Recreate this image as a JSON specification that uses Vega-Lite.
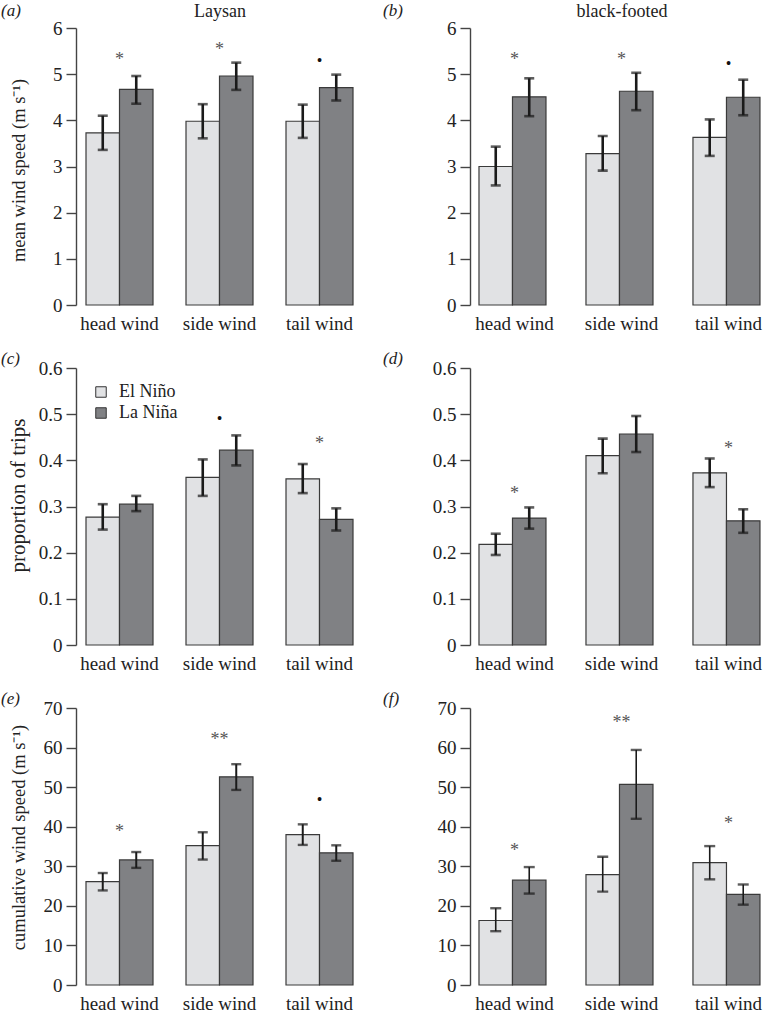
{
  "$schema": "https://vega.github.io/schema/vega-lite/v6.json",
  "padding": {"left": 1, "top": 2, "right": 0, "bottom": 0},
  "background": "white",
  "datasets": {
    "bars": [
      {"panel": "a", "wind": "head wind", "phase": "El Niño", "value": 3.73, "lo": 3.36, "hi": 4.10},
      {"panel": "a", "wind": "head wind", "phase": "La Niña", "value": 4.67, "lo": 4.36, "hi": 4.96},
      {"panel": "a", "wind": "side wind", "phase": "El Niño", "value": 3.98, "lo": 3.61, "hi": 4.35},
      {"panel": "a", "wind": "side wind", "phase": "La Niña", "value": 4.96, "lo": 4.66, "hi": 5.25},
      {"panel": "a", "wind": "tail wind", "phase": "El Niño", "value": 3.98, "lo": 3.62, "hi": 4.34},
      {"panel": "a", "wind": "tail wind", "phase": "La Niña", "value": 4.71, "lo": 4.43, "hi": 4.99},
      {"panel": "b", "wind": "head wind", "phase": "El Niño", "value": 3.00, "lo": 2.59, "hi": 3.43},
      {"panel": "b", "wind": "head wind", "phase": "La Niña", "value": 4.51, "lo": 4.09, "hi": 4.91},
      {"panel": "b", "wind": "side wind", "phase": "El Niño", "value": 3.28, "lo": 2.91, "hi": 3.66},
      {"panel": "b", "wind": "side wind", "phase": "La Niña", "value": 4.63, "lo": 4.22, "hi": 5.03},
      {"panel": "b", "wind": "tail wind", "phase": "El Niño", "value": 3.63, "lo": 3.23, "hi": 4.02},
      {"panel": "b", "wind": "tail wind", "phase": "La Niña", "value": 4.50, "lo": 4.11, "hi": 4.88},
      {"panel": "c", "wind": "head wind", "phase": "El Niño", "value": 0.277, "lo": 0.250, "hi": 0.305},
      {"panel": "c", "wind": "head wind", "phase": "La Niña", "value": 0.305, "lo": 0.290, "hi": 0.323},
      {"panel": "c", "wind": "side wind", "phase": "El Niño", "value": 0.363, "lo": 0.323, "hi": 0.402},
      {"panel": "c", "wind": "side wind", "phase": "La Niña", "value": 0.422, "lo": 0.389, "hi": 0.454},
      {"panel": "c", "wind": "tail wind", "phase": "El Niño", "value": 0.360, "lo": 0.329, "hi": 0.392},
      {"panel": "c", "wind": "tail wind", "phase": "La Niña", "value": 0.272, "lo": 0.248, "hi": 0.296},
      {"panel": "d", "wind": "head wind", "phase": "El Niño", "value": 0.218, "lo": 0.195, "hi": 0.241},
      {"panel": "d", "wind": "head wind", "phase": "La Niña", "value": 0.275, "lo": 0.252, "hi": 0.298},
      {"panel": "d", "wind": "side wind", "phase": "El Niño", "value": 0.410, "lo": 0.372, "hi": 0.447},
      {"panel": "d", "wind": "side wind", "phase": "La Niña", "value": 0.457, "lo": 0.418, "hi": 0.496},
      {"panel": "d", "wind": "tail wind", "phase": "El Niño", "value": 0.373, "lo": 0.342, "hi": 0.404},
      {"panel": "d", "wind": "tail wind", "phase": "La Niña", "value": 0.269, "lo": 0.243, "hi": 0.294},
      {"panel": "e", "wind": "head wind", "phase": "El Niño", "value": 26.1, "lo": 23.9, "hi": 28.3},
      {"panel": "e", "wind": "head wind", "phase": "La Niña", "value": 31.6, "lo": 29.6, "hi": 33.6},
      {"panel": "e", "wind": "side wind", "phase": "El Niño", "value": 35.2, "lo": 31.7, "hi": 38.6},
      {"panel": "e", "wind": "side wind", "phase": "La Niña", "value": 52.6, "lo": 49.3, "hi": 55.8},
      {"panel": "e", "wind": "tail wind", "phase": "El Niño", "value": 38.0, "lo": 35.4, "hi": 40.6},
      {"panel": "e", "wind": "tail wind", "phase": "La Niña", "value": 33.4, "lo": 31.4, "hi": 35.3},
      {"panel": "f", "wind": "head wind", "phase": "El Niño", "value": 16.3, "lo": 13.6, "hi": 19.4},
      {"panel": "f", "wind": "head wind", "phase": "La Niña", "value": 26.5, "lo": 23.1, "hi": 29.8},
      {"panel": "f", "wind": "side wind", "phase": "El Niño", "value": 27.9, "lo": 23.6, "hi": 32.4},
      {"panel": "f", "wind": "side wind", "phase": "La Niña", "value": 50.7, "lo": 42.0, "hi": 59.4},
      {"panel": "f", "wind": "tail wind", "phase": "El Niño", "value": 30.9, "lo": 26.7, "hi": 35.1},
      {"panel": "f", "wind": "tail wind", "phase": "La Niña", "value": 22.9, "lo": 20.3, "hi": 25.4}
    ],
    "marks": [
      {"panel": "a", "wind": "head wind", "sym": "*", "y": 5.40},
      {"panel": "a", "wind": "side wind", "sym": "*", "y": 5.62},
      {"panel": "a", "wind": "tail wind", "sym": "•", "y": 5.30},
      {"panel": "b", "wind": "head wind", "sym": "*", "y": 5.40},
      {"panel": "b", "wind": "side wind", "sym": "*", "y": 5.40},
      {"panel": "b", "wind": "tail wind", "sym": "•", "y": 5.25},
      {"panel": "c", "wind": "side wind", "sym": "•", "y": 0.492},
      {"panel": "c", "wind": "tail wind", "sym": "*", "y": 0.443},
      {"panel": "d", "wind": "head wind", "sym": "*", "y": 0.336},
      {"panel": "d", "wind": "tail wind", "sym": "*", "y": 0.433},
      {"panel": "e", "wind": "head wind", "sym": "*", "y": 39.7},
      {"panel": "e", "wind": "side wind", "sym": "**", "y": 63.0},
      {"panel": "e", "wind": "tail wind", "sym": "•", "y": 47.1},
      {"panel": "f", "wind": "head wind", "sym": "*", "y": 35.0},
      {"panel": "f", "wind": "side wind", "sym": "**", "y": 67.1},
      {"panel": "f", "wind": "tail wind", "sym": "*", "y": 41.8}
    ]
  },
  "columns": 2,
  "align": "each",
  "bounds": "flush",
  "spacing": {"row": 63, "column": 107},
  "resolve": {"scale": {"color": "independent"}, "legend": {"color": "independent"}},
  "concat": [
    {
      "width": 287, "height": 277,
      "title": {"text": "(a)", "anchor": "start", "frame": "group", "dx": -75, "offset": -18},
      "resolve": {"axis": {"x": "independent", "y": "independent"}},
      "layer": [
        {"data": {"name": "bars"}, "transform": [{"filter": "datum.panel === 'a'"}],
         "mark": {"type": "bar", "stroke": "#3a3a3a", "strokeWidth": 1.2},
         "encoding": {
           "x": {"field": "wind", "type": "nominal", "sort": ["head wind", "side wind", "tail wind"], "scale": {"paddingInner": 0.33, "paddingOuter": 0.1}, "axis": {"title": null, "domain": false, "ticks": false, "labelAngle": 0, "labelPadding": 9, "labelFontSize": 19}},
           "xOffset": {"field": "phase", "type": "nominal", "sort": ["El Niño", "La Niña"], "scale": {"paddingInner": 0, "paddingOuter": 0}},
           "y": {"field": "value", "type": "quantitative", "scale": {"domain": [0, 6], "nice": false}, "axis": {"title": "mean wind speed (m s⁻¹)", "values": [0, 1, 2, 3, 4, 5, 6], "format": "~r", "titleX": -48, "titleY": 142}},
           "color": {"field": "phase", "type": "nominal", "sort": ["El Niño", "La Niña"], "scale": {"domain": ["El Niño", "La Niña"], "range": ["#e1e2e4", "#808184"]}, "legend": null}
         }},
        {"data": {"name": "bars"}, "transform": [{"filter": "datum.panel === 'a'"}],
         "mark": {"type": "rule", "color": "#1a1a1a", "strokeWidth": 2.6},
         "encoding": {
           "x": {"field": "wind", "type": "nominal", "sort": ["head wind", "side wind", "tail wind"], "axis": null},
           "xOffset": {"field": "phase", "type": "nominal", "sort": ["El Niño", "La Niña"]},
           "y": {"field": "lo", "type": "quantitative", "axis": null}, "y2": {"field": "hi"}
         }},
        {"data": {"name": "bars"}, "transform": [{"filter": "datum.panel === 'a'"}],
         "mark": {"type": "tick", "color": "#1a1a1a", "thickness": 2.6, "size": 10},
         "encoding": {
           "x": {"field": "wind", "type": "nominal", "sort": ["head wind", "side wind", "tail wind"], "axis": null},
           "xOffset": {"field": "phase", "type": "nominal", "sort": ["El Niño", "La Niña"]},
           "y": {"field": "lo", "type": "quantitative", "axis": null}
         }},
        {"data": {"name": "bars"}, "transform": [{"filter": "datum.panel === 'a'"}],
         "mark": {"type": "tick", "color": "#1a1a1a", "thickness": 2.6, "size": 10},
         "encoding": {
           "x": {"field": "wind", "type": "nominal", "sort": ["head wind", "side wind", "tail wind"], "axis": null},
           "xOffset": {"field": "phase", "type": "nominal", "sort": ["El Niño", "La Niña"]},
           "y": {"field": "hi", "type": "quantitative", "axis": null}
         }},
        {"data": {"name": "marks"}, "transform": [{"filter": "datum.panel === 'a' && datum.sym !== '•'"}],
         "mark": {"type": "text", "fontSize": 18, "color": "#555", "baseline": "middle", "dy": 4},
         "encoding": {
           "x": {"field": "wind", "type": "nominal", "sort": ["head wind", "side wind", "tail wind"], "axis": {"orient": "top", "title": "Laysan", "domain": false, "ticks": false, "labels": false, "titlePadding": 8, "titleFontSize": 18}},
           "y": {"field": "y", "type": "quantitative", "axis": null},
           "text": {"field": "sym"}
         }},
        {"data": {"name": "marks"}, "transform": [{"filter": "datum.panel === 'a' && datum.sym === '•'"}],
         "mark": {"type": "text", "fontSize": 16, "color": "#111", "baseline": "middle", "dy": 1},
         "encoding": {
           "x": {"field": "wind", "type": "nominal", "sort": ["head wind", "side wind", "tail wind"], "axis": null},
           "y": {"field": "y", "type": "quantitative", "axis": null},
           "text": {"field": "sym"}
         }}
      ]
    },
    {
      "width": 303, "height": 277,
      "title": {"text": "(b)", "anchor": "start", "frame": "group", "dx": -87, "offset": -18},
      "resolve": {"axis": {"x": "independent", "y": "independent"}},
      "layer": [
        {"data": {"name": "bars"}, "transform": [{"filter": "datum.panel === 'b'"}],
         "mark": {"type": "bar", "stroke": "#3a3a3a", "strokeWidth": 1.2},
         "encoding": {
           "x": {"field": "wind", "type": "nominal", "sort": ["head wind", "side wind", "tail wind"], "scale": {"paddingInner": 0.336, "paddingOuter": 0.084}, "axis": {"title": null, "domain": false, "ticks": false, "labelAngle": 0, "labelPadding": 9, "labelFontSize": 19}},
           "xOffset": {"field": "phase", "type": "nominal", "sort": ["El Niño", "La Niña"], "scale": {"paddingInner": 0, "paddingOuter": 0}},
           "y": {"field": "value", "type": "quantitative", "scale": {"domain": [0, 6], "nice": false}, "axis": {"title": null, "values": [0, 1, 2, 3, 4, 5, 6], "format": "~r"}},
           "color": {"field": "phase", "type": "nominal", "sort": ["El Niño", "La Niña"], "scale": {"domain": ["El Niño", "La Niña"], "range": ["#e1e2e4", "#808184"]}, "legend": null}
         }},
        {"data": {"name": "bars"}, "transform": [{"filter": "datum.panel === 'b'"}],
         "mark": {"type": "rule", "color": "#1a1a1a", "strokeWidth": 2.6},
         "encoding": {
           "x": {"field": "wind", "type": "nominal", "sort": ["head wind", "side wind", "tail wind"], "axis": null},
           "xOffset": {"field": "phase", "type": "nominal", "sort": ["El Niño", "La Niña"]},
           "y": {"field": "lo", "type": "quantitative", "axis": null}, "y2": {"field": "hi"}
         }},
        {"data": {"name": "bars"}, "transform": [{"filter": "datum.panel === 'b'"}],
         "mark": {"type": "tick", "color": "#1a1a1a", "thickness": 2.6, "size": 10},
         "encoding": {
           "x": {"field": "wind", "type": "nominal", "sort": ["head wind", "side wind", "tail wind"], "axis": null},
           "xOffset": {"field": "phase", "type": "nominal", "sort": ["El Niño", "La Niña"]},
           "y": {"field": "lo", "type": "quantitative", "axis": null}
         }},
        {"data": {"name": "bars"}, "transform": [{"filter": "datum.panel === 'b'"}],
         "mark": {"type": "tick", "color": "#1a1a1a", "thickness": 2.6, "size": 10},
         "encoding": {
           "x": {"field": "wind", "type": "nominal", "sort": ["head wind", "side wind", "tail wind"], "axis": null},
           "xOffset": {"field": "phase", "type": "nominal", "sort": ["El Niño", "La Niña"]},
           "y": {"field": "hi", "type": "quantitative", "axis": null}
         }},
        {"data": {"name": "marks"}, "transform": [{"filter": "datum.panel === 'b' && datum.sym !== '•'"}],
         "mark": {"type": "text", "fontSize": 18, "color": "#555", "baseline": "middle", "dy": 4},
         "encoding": {
           "x": {"field": "wind", "type": "nominal", "sort": ["head wind", "side wind", "tail wind"], "axis": {"orient": "top", "title": "black-footed", "domain": false, "ticks": false, "labels": false, "titlePadding": 8, "titleFontSize": 18}},
           "y": {"field": "y", "type": "quantitative", "axis": null},
           "text": {"field": "sym"}
         }},
        {"data": {"name": "marks"}, "transform": [{"filter": "datum.panel === 'b' && datum.sym === '•'"}],
         "mark": {"type": "text", "fontSize": 16, "color": "#111", "baseline": "middle", "dy": 1},
         "encoding": {
           "x": {"field": "wind", "type": "nominal", "sort": ["head wind", "side wind", "tail wind"], "axis": null},
           "y": {"field": "y", "type": "quantitative", "axis": null},
           "text": {"field": "sym"}
         }}
      ]
    },
    {
      "width": 287, "height": 277,
      "title": {"text": "(c)", "anchor": "start", "frame": "group", "dx": -75, "offset": -9},
      "resolve": {"axis": {"x": "independent", "y": "independent"}},
      "layer": [
        {"data": {"name": "bars"}, "transform": [{"filter": "datum.panel === 'c'"}],
         "mark": {"type": "bar", "stroke": "#3a3a3a", "strokeWidth": 1.2},
         "encoding": {
           "x": {"field": "wind", "type": "nominal", "sort": ["head wind", "side wind", "tail wind"], "scale": {"paddingInner": 0.33, "paddingOuter": 0.1}, "axis": {"title": null, "domain": false, "ticks": false, "labelAngle": 0, "labelPadding": 9, "labelFontSize": 19}},
           "xOffset": {"field": "phase", "type": "nominal", "sort": ["El Niño", "La Niña"], "scale": {"paddingInner": 0, "paddingOuter": 0}},
           "y": {"field": "value", "type": "quantitative", "scale": {"domain": [0, 0.6], "nice": false}, "axis": {"title": "proportion of trips", "values": [0, 0.1, 0.2, 0.3, 0.4, 0.5, 0.6], "format": "~r", "titleX": -48, "titleY": 127, "titleFontSize": 21}},
           "color": {"field": "phase", "type": "nominal", "sort": ["El Niño", "La Niña"], "scale": {"domain": ["El Niño", "La Niña"], "range": ["#e1e2e4", "#808184"]},
             "legend": {"orient": "none", "legendX": 16, "legendY": 15, "title": null, "padding": 0, "symbolType": "square", "symbolSize": 110, "symbolStrokeColor": "#333", "symbolStrokeWidth": 1, "labelFontSize": 18, "labelFont": "Liberation Serif", "labelColor": "#222", "rowPadding": 3, "labelOffset": 9}}
         }},
        {"data": {"name": "bars"}, "transform": [{"filter": "datum.panel === 'c'"}],
         "mark": {"type": "rule", "color": "#1a1a1a", "strokeWidth": 2.6},
         "encoding": {
           "x": {"field": "wind", "type": "nominal", "sort": ["head wind", "side wind", "tail wind"], "axis": null},
           "xOffset": {"field": "phase", "type": "nominal", "sort": ["El Niño", "La Niña"]},
           "y": {"field": "lo", "type": "quantitative", "axis": null}, "y2": {"field": "hi"}
         }},
        {"data": {"name": "bars"}, "transform": [{"filter": "datum.panel === 'c'"}],
         "mark": {"type": "tick", "color": "#1a1a1a", "thickness": 2.6, "size": 10},
         "encoding": {
           "x": {"field": "wind", "type": "nominal", "sort": ["head wind", "side wind", "tail wind"], "axis": null},
           "xOffset": {"field": "phase", "type": "nominal", "sort": ["El Niño", "La Niña"]},
           "y": {"field": "lo", "type": "quantitative", "axis": null}
         }},
        {"data": {"name": "bars"}, "transform": [{"filter": "datum.panel === 'c'"}],
         "mark": {"type": "tick", "color": "#1a1a1a", "thickness": 2.6, "size": 10},
         "encoding": {
           "x": {"field": "wind", "type": "nominal", "sort": ["head wind", "side wind", "tail wind"], "axis": null},
           "xOffset": {"field": "phase", "type": "nominal", "sort": ["El Niño", "La Niña"]},
           "y": {"field": "hi", "type": "quantitative", "axis": null}
         }},
        {"data": {"name": "marks"}, "transform": [{"filter": "datum.panel === 'c' && datum.sym !== '•'"}],
         "mark": {"type": "text", "fontSize": 18, "color": "#555", "baseline": "middle", "dy": 4},
         "encoding": {
           "x": {"field": "wind", "type": "nominal", "sort": ["head wind", "side wind", "tail wind"], "axis": null},
           "y": {"field": "y", "type": "quantitative", "axis": null},
           "text": {"field": "sym"}
         }},
        {"data": {"name": "marks"}, "transform": [{"filter": "datum.panel === 'c' && datum.sym === '•'"}],
         "mark": {"type": "text", "fontSize": 16, "color": "#111", "baseline": "middle", "dy": 1},
         "encoding": {
           "x": {"field": "wind", "type": "nominal", "sort": ["head wind", "side wind", "tail wind"], "axis": null},
           "y": {"field": "y", "type": "quantitative", "axis": null},
           "text": {"field": "sym"}
         }}
      ]
    },
    {
      "width": 303, "height": 277,
      "title": {"text": "(d)", "anchor": "start", "frame": "group", "dx": -87, "offset": -9},
      "resolve": {"axis": {"x": "independent", "y": "independent"}},
      "layer": [
        {"data": {"name": "bars"}, "transform": [{"filter": "datum.panel === 'd'"}],
         "mark": {"type": "bar", "stroke": "#3a3a3a", "strokeWidth": 1.2},
         "encoding": {
           "x": {"field": "wind", "type": "nominal", "sort": ["head wind", "side wind", "tail wind"], "scale": {"paddingInner": 0.336, "paddingOuter": 0.084}, "axis": {"title": null, "domain": false, "ticks": false, "labelAngle": 0, "labelPadding": 9, "labelFontSize": 19}},
           "xOffset": {"field": "phase", "type": "nominal", "sort": ["El Niño", "La Niña"], "scale": {"paddingInner": 0, "paddingOuter": 0}},
           "y": {"field": "value", "type": "quantitative", "scale": {"domain": [0, 0.6], "nice": false}, "axis": {"title": null, "values": [0, 0.1, 0.2, 0.3, 0.4, 0.5, 0.6], "format": "~r"}},
           "color": {"field": "phase", "type": "nominal", "sort": ["El Niño", "La Niña"], "scale": {"domain": ["El Niño", "La Niña"], "range": ["#e1e2e4", "#808184"]}, "legend": null}
         }},
        {"data": {"name": "bars"}, "transform": [{"filter": "datum.panel === 'd'"}],
         "mark": {"type": "rule", "color": "#1a1a1a", "strokeWidth": 2.6},
         "encoding": {
           "x": {"field": "wind", "type": "nominal", "sort": ["head wind", "side wind", "tail wind"], "axis": null},
           "xOffset": {"field": "phase", "type": "nominal", "sort": ["El Niño", "La Niña"]},
           "y": {"field": "lo", "type": "quantitative", "axis": null}, "y2": {"field": "hi"}
         }},
        {"data": {"name": "bars"}, "transform": [{"filter": "datum.panel === 'd'"}],
         "mark": {"type": "tick", "color": "#1a1a1a", "thickness": 2.6, "size": 10},
         "encoding": {
           "x": {"field": "wind", "type": "nominal", "sort": ["head wind", "side wind", "tail wind"], "axis": null},
           "xOffset": {"field": "phase", "type": "nominal", "sort": ["El Niño", "La Niña"]},
           "y": {"field": "lo", "type": "quantitative", "axis": null}
         }},
        {"data": {"name": "bars"}, "transform": [{"filter": "datum.panel === 'd'"}],
         "mark": {"type": "tick", "color": "#1a1a1a", "thickness": 2.6, "size": 10},
         "encoding": {
           "x": {"field": "wind", "type": "nominal", "sort": ["head wind", "side wind", "tail wind"], "axis": null},
           "xOffset": {"field": "phase", "type": "nominal", "sort": ["El Niño", "La Niña"]},
           "y": {"field": "hi", "type": "quantitative", "axis": null}
         }},
        {"data": {"name": "marks"}, "transform": [{"filter": "datum.panel === 'd'"}],
         "mark": {"type": "text", "fontSize": 18, "color": "#555", "baseline": "middle", "dy": 4},
         "encoding": {
           "x": {"field": "wind", "type": "nominal", "sort": ["head wind", "side wind", "tail wind"], "axis": null},
           "y": {"field": "y", "type": "quantitative", "axis": null},
           "text": {"field": "sym"}
         }}
      ]
    },
    {
      "width": 287, "height": 277,
      "title": {"text": "(e)", "anchor": "start", "frame": "group", "dx": -75, "offset": -9},
      "resolve": {"axis": {"x": "independent", "y": "independent"}},
      "layer": [
        {"data": {"name": "bars"}, "transform": [{"filter": "datum.panel === 'e'"}],
         "mark": {"type": "bar", "stroke": "#3a3a3a", "strokeWidth": 1.2},
         "encoding": {
           "x": {"field": "wind", "type": "nominal", "sort": ["head wind", "side wind", "tail wind"], "scale": {"paddingInner": 0.33, "paddingOuter": 0.1}, "axis": {"title": null, "domain": false, "ticks": false, "labelAngle": 0, "labelPadding": 9, "labelFontSize": 19}},
           "xOffset": {"field": "phase", "type": "nominal", "sort": ["El Niño", "La Niña"], "scale": {"paddingInner": 0, "paddingOuter": 0}},
           "y": {"field": "value", "type": "quantitative", "scale": {"domain": [0, 70], "nice": false}, "axis": {"title": "cumulative wind speed (m s⁻¹)", "values": [0, 10, 20, 30, 40, 50, 60, 70], "format": "~r", "titleX": -48, "titleY": 129}},
           "color": {"field": "phase", "type": "nominal", "sort": ["El Niño", "La Niña"], "scale": {"domain": ["El Niño", "La Niña"], "range": ["#e1e2e4", "#808184"]}, "legend": null}
         }},
        {"data": {"name": "bars"}, "transform": [{"filter": "datum.panel === 'e'"}],
         "mark": {"type": "rule", "color": "#1a1a1a", "strokeWidth": 2.0},
         "encoding": {
           "x": {"field": "wind", "type": "nominal", "sort": ["head wind", "side wind", "tail wind"], "axis": null},
           "xOffset": {"field": "phase", "type": "nominal", "sort": ["El Niño", "La Niña"]},
           "y": {"field": "lo", "type": "quantitative", "axis": null}, "y2": {"field": "hi"}
         }},
        {"data": {"name": "bars"}, "transform": [{"filter": "datum.panel === 'e'"}],
         "mark": {"type": "tick", "color": "#1a1a1a", "thickness": 2.4, "size": 10},
         "encoding": {
           "x": {"field": "wind", "type": "nominal", "sort": ["head wind", "side wind", "tail wind"], "axis": null},
           "xOffset": {"field": "phase", "type": "nominal", "sort": ["El Niño", "La Niña"]},
           "y": {"field": "lo", "type": "quantitative", "axis": null}
         }},
        {"data": {"name": "bars"}, "transform": [{"filter": "datum.panel === 'e'"}],
         "mark": {"type": "tick", "color": "#1a1a1a", "thickness": 2.4, "size": 10},
         "encoding": {
           "x": {"field": "wind", "type": "nominal", "sort": ["head wind", "side wind", "tail wind"], "axis": null},
           "xOffset": {"field": "phase", "type": "nominal", "sort": ["El Niño", "La Niña"]},
           "y": {"field": "hi", "type": "quantitative", "axis": null}
         }},
        {"data": {"name": "marks"}, "transform": [{"filter": "datum.panel === 'e' && datum.sym !== '•'"}],
         "mark": {"type": "text", "fontSize": 18, "color": "#555", "baseline": "middle", "dy": 4},
         "encoding": {
           "x": {"field": "wind", "type": "nominal", "sort": ["head wind", "side wind", "tail wind"], "axis": null},
           "y": {"field": "y", "type": "quantitative", "axis": null},
           "text": {"field": "sym"}
         }},
        {"data": {"name": "marks"}, "transform": [{"filter": "datum.panel === 'e' && datum.sym === '•'"}],
         "mark": {"type": "text", "fontSize": 16, "color": "#111", "baseline": "middle", "dy": 1},
         "encoding": {
           "x": {"field": "wind", "type": "nominal", "sort": ["head wind", "side wind", "tail wind"], "axis": null},
           "y": {"field": "y", "type": "quantitative", "axis": null},
           "text": {"field": "sym"}
         }}
      ]
    },
    {
      "width": 303, "height": 277,
      "title": {"text": "(f)", "anchor": "start", "frame": "group", "dx": -87, "offset": -9},
      "resolve": {"axis": {"x": "independent", "y": "independent"}},
      "layer": [
        {"data": {"name": "bars"}, "transform": [{"filter": "datum.panel === 'f'"}],
         "mark": {"type": "bar", "stroke": "#3a3a3a", "strokeWidth": 1.2},
         "encoding": {
           "x": {"field": "wind", "type": "nominal", "sort": ["head wind", "side wind", "tail wind"], "scale": {"paddingInner": 0.336, "paddingOuter": 0.084}, "axis": {"title": null, "domain": false, "ticks": false, "labelAngle": 0, "labelPadding": 9, "labelFontSize": 19}},
           "xOffset": {"field": "phase", "type": "nominal", "sort": ["El Niño", "La Niña"], "scale": {"paddingInner": 0, "paddingOuter": 0}},
           "y": {"field": "value", "type": "quantitative", "scale": {"domain": [0, 70], "nice": false}, "axis": {"title": null, "values": [0, 10, 20, 30, 40, 50, 60, 70], "format": "~r"}},
           "color": {"field": "phase", "type": "nominal", "sort": ["El Niño", "La Niña"], "scale": {"domain": ["El Niño", "La Niña"], "range": ["#e1e2e4", "#808184"]}, "legend": null}
         }},
        {"data": {"name": "bars"}, "transform": [{"filter": "datum.panel === 'f'"}],
         "mark": {"type": "rule", "color": "#1a1a1a", "strokeWidth": 1.6},
         "encoding": {
           "x": {"field": "wind", "type": "nominal", "sort": ["head wind", "side wind", "tail wind"], "axis": null},
           "xOffset": {"field": "phase", "type": "nominal", "sort": ["El Niño", "La Niña"]},
           "y": {"field": "lo", "type": "quantitative", "axis": null}, "y2": {"field": "hi"}
         }},
        {"data": {"name": "bars"}, "transform": [{"filter": "datum.panel === 'f'"}],
         "mark": {"type": "tick", "color": "#1a1a1a", "thickness": 2.4, "size": 11},
         "encoding": {
           "x": {"field": "wind", "type": "nominal", "sort": ["head wind", "side wind", "tail wind"], "axis": null},
           "xOffset": {"field": "phase", "type": "nominal", "sort": ["El Niño", "La Niña"]},
           "y": {"field": "lo", "type": "quantitative", "axis": null}
         }},
        {"data": {"name": "bars"}, "transform": [{"filter": "datum.panel === 'f'"}],
         "mark": {"type": "tick", "color": "#1a1a1a", "thickness": 2.4, "size": 11},
         "encoding": {
           "x": {"field": "wind", "type": "nominal", "sort": ["head wind", "side wind", "tail wind"], "axis": null},
           "xOffset": {"field": "phase", "type": "nominal", "sort": ["El Niño", "La Niña"]},
           "y": {"field": "hi", "type": "quantitative", "axis": null}
         }},
        {"data": {"name": "marks"}, "transform": [{"filter": "datum.panel === 'f'"}],
         "mark": {"type": "text", "fontSize": 18, "color": "#555", "baseline": "middle", "dy": 4},
         "encoding": {
           "x": {"field": "wind", "type": "nominal", "sort": ["head wind", "side wind", "tail wind"], "axis": null},
           "y": {"field": "y", "type": "quantitative", "axis": null},
           "text": {"field": "sym"}
         }}
      ]
    }
  ],
  "config": {
    "view": {"stroke": null},
    "font": "Liberation Serif",
    "axis": {
      "labelFont": "Liberation Serif", "titleFont": "Liberation Serif",
      "labelColor": "#222", "titleColor": "#222",
      "labelFontSize": 19, "titleFontSize": 18.5, "titleFontWeight": "normal",
      "domainColor": "#444", "tickColor": "#444", "domainWidth": 1.4, "tickWidth": 1.4,
      "tickSize": 10, "labelPadding": 4, "grid": false
    },
    "title": {"font": "Liberation Serif", "fontSize": 17, "fontWeight": "normal", "fontStyle": "italic", "color": "#222"},
    "text": {"font": "Liberation Serif"}
  }
}
